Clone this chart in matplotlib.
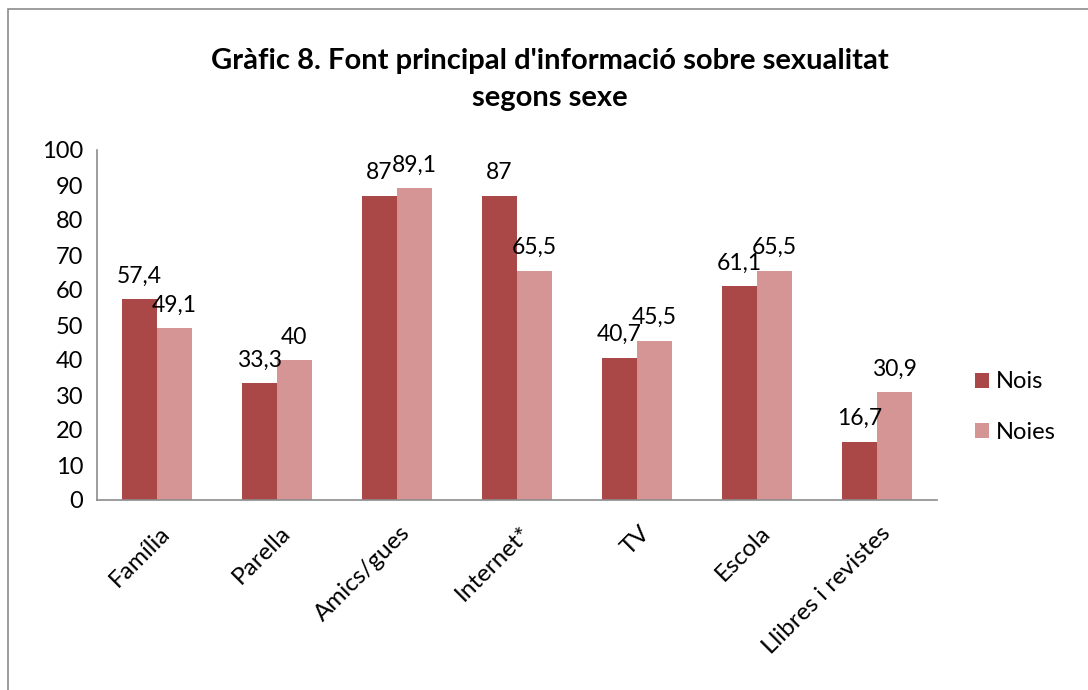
import matplotlib.pyplot as plt
import numpy as np
from matplotlib.patches import Rectangle

plt.rcParams['font.family'] = ['Lato', 'DejaVu Sans']

categories = ['Família', 'Parella', 'Amics/gues', 'Internet*', 'TV', 'Escola', 'Llibres i revistes']
nois = [57.4, 33.3, 87, 87, 40.7, 61.1, 16.7]
noies = [49.1, 40, 89.1, 65.5, 45.5, 65.5, 30.9]
series = ['Nois', 'Noies']
colors = ['#A94846', '#D49594']

def fmt(v):
    s = ('%.1f' % v).rstrip('0').rstrip('.')
    return s.replace('.', ',')

fig = plt.figure(figsize=(10.88, 6.9), dpi=100)
ax = fig.add_axes([97 / 1088, 1 - 500 / 690, 840 / 1088, 350 / 690])

# marc del gràfic
fig.patches.append(Rectangle((8 / 1088, -0.01), 1.1, 1 - 9 / 690 + 0.01, transform=fig.transFigure,
                             fill=False, edgecolor='#8c8c8c', linewidth=1.2))

x = np.arange(len(categories))
w = 0.29
b1 = ax.bar(x - w / 2, nois, w, color=colors[0], label=series[0])
b2 = ax.bar(x + w / 2, noies, w, color=colors[1], label=series[1])

for bars, vals in ((b1, nois), (b2, noies)):
    for rect, v in zip(bars, vals):
        ax.annotate(fmt(v), (rect.get_x() + rect.get_width() / 2, v),
                    xytext=(0, 9), textcoords='offset points',
                    ha='center', va='bottom', fontsize=16.5)

ax.set_xlim(-0.5, len(categories) - 0.5)
ax.set_ylim(0, 100)
ax.set_yticks(range(0, 101, 10))
ax.set_xticks(x + 0.02)
ax.set_xticklabels(categories, rotation=45, ha='right', rotation_mode='anchor', fontsize=17.5)
ax.tick_params(axis='y', labelsize=17, length=0, pad=10)
ax.tick_params(axis='x', length=0, pad=16)
for s in ('top', 'right'):
    ax.spines[s].set_visible(False)
for s in ('left', 'bottom'):
    ax.spines[s].set_color('#8c8c8c')
    ax.spines[s].set_linewidth(1.2)

ax.legend(loc='center left', bbox_to_anchor=(1.02, 0.265), frameon=False, fontsize=17,
          handlelength=0.6, handleheight=0.6, labelspacing=1.25, handletextpad=0.3)

fig.text(0.505, 0.885, "Gràfic 8. Font principal d'informació sobre sexualitat\nsegons sexe",
         ha='center', va='center', fontsize=21, fontweight='bold', linespacing=1.5)

fig.savefig('out.png', dpi=100)
